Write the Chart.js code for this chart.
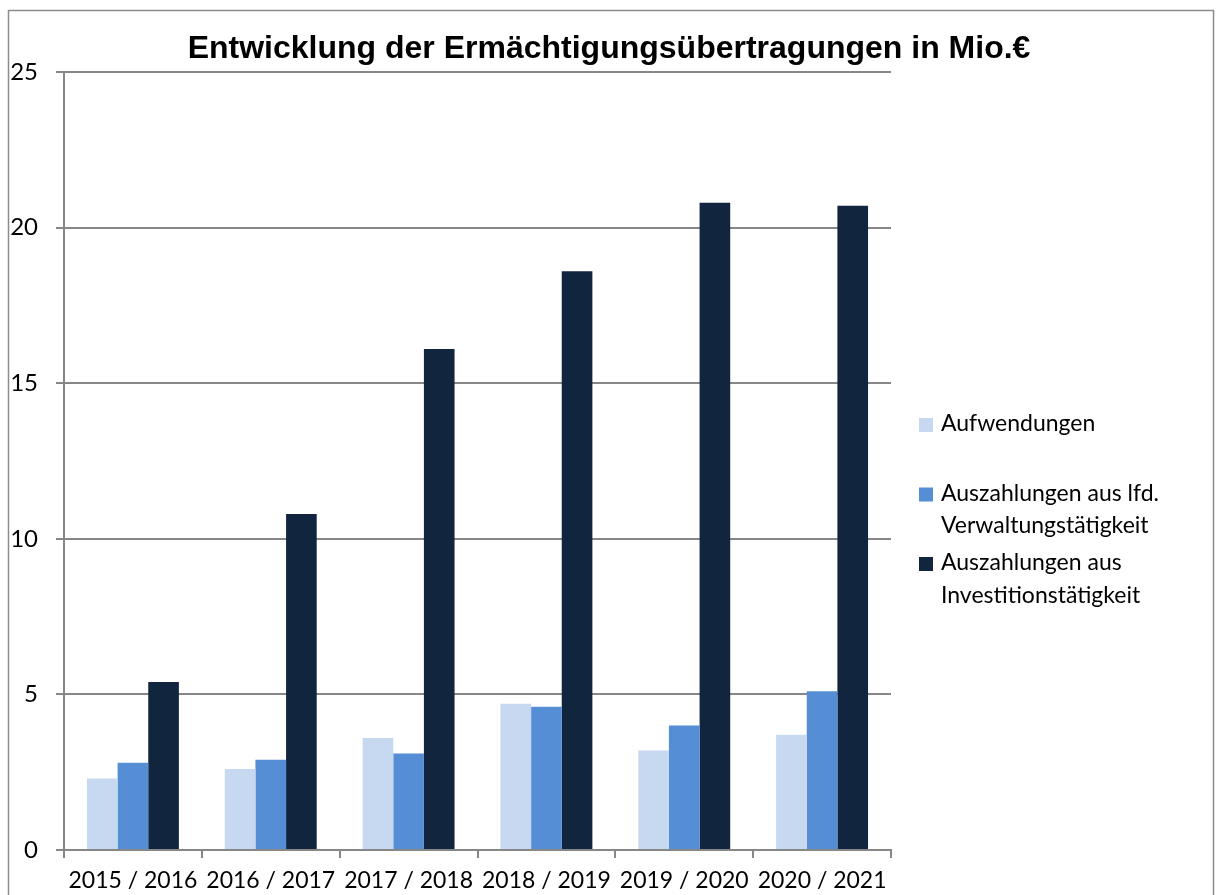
<!DOCTYPE html>
<html lang="de">
<head>
<meta charset="utf-8">
<title>Entwicklung der Ermächtigungsübertragungen</title>
<script src="https://cdn.jsdelivr.net/npm/chart.js@4/dist/chart.umd.min.js"></script>
<style>
  html, body { margin: 0; padding: 0; background: #ffffff; }
  #wrap { position: relative; width: 1218px; height: 895px; }
</style>
</head>
<body>
<div id="wrap"><canvas id="bar-chart" width="1218" height="895"></canvas></div>
<script>
// Daten (in Mio. €)
const categories = ["2015 / 2016", "2016 / 2017", "2017 / 2018", "2018 / 2019", "2019 / 2020", "2020 / 2021"];
const aufwendungen = [2.3, 2.6, 3.6, 4.7, 3.2, 3.7];
const auszahlungenVerwaltung = [2.8, 2.9, 3.1, 4.6, 4.0, 5.1];
const auszahlungenInvestition = [5.4, 10.8, 16.1, 18.6, 20.8, 20.7];
const yTicks = [0, 5, 10, 15, 20, 25];

// Legende mit Zeilenumbruch wie im Original
const seriesNames = [
    ["Aufwendungen"],
    ["Auszahlungen aus lfd.", "Verwaltungstätigkeit"],
    ["Auszahlungen aus", "Investitionstätigkeit"]
];
const seriesColors = ["#c6d9f1", "#558ed5", "#12253f"];
const chartTitle = "Entwicklung der Ermächtigungsübertragungen in Mio.€";

const gridGray = "#878787";
const labelFont = "Lato, 'Noto Sans', sans-serif";

// Rahmen und Titel (Titel über die ganze Breite zentriert)
const framePlugin = {
    id: 'frame',
    beforeDraw: function (chart) {
        const ctx = chart.ctx;
        ctx.save();
        ctx.fillStyle = "#ffffff";
        ctx.fillRect(0, 0, chart.width, chart.height);
        ctx.strokeStyle = "#8c8c8c";
        ctx.lineWidth = 1.5;
        ctx.strokeRect(8.5, 10.5, 1205, 900);
        ctx.font = "bold 32px 'Liberation Sans', Arial, sans-serif";
        ctx.fillStyle = "#000000";
        ctx.textAlign = "center";
        ctx.textBaseline = "middle";
        ctx.fillText(chartTitle, chart.width / 2, 49);
        ctx.restore();
    }
};

// eigene Legende rechts (Chart.js kann keine mehrzeiligen Einträge)
const sideLegend = {
    id: 'sideLegend',
    afterDraw: function (chart) {
        const ctx = chart.ctx;
        const area = chart.chartArea;
        const x = area.right + 28;
        let y = area.top + 352;
        const lineH = 32.5;
        ctx.save();
        ctx.font = "23px " + labelFont;
        ctx.textBaseline = "middle";
        ctx.textAlign = "left";
        chart.data.datasets.forEach(function (ds, i) {
            const lines = seriesNames[i];
            ctx.fillStyle = ds.backgroundColor;
            ctx.fillRect(x, y - 6, 14, 14);
            ctx.fillStyle = "#000000";
            lines.forEach(function (txt, j) {
                ctx.fillText(txt, x + 22, y + j * lineH);
            });
            y += 69.5;
        });
        ctx.restore();
    }
};

var ctx = document.getElementById("bar-chart").getContext("2d");
var myChart = new Chart(ctx, {
    type: "bar",
    data: {
        labels: categories,
        datasets: [
            { label: seriesNames[0].join(" "), backgroundColor: seriesColors[0], data: aufwendungen },
            { label: seriesNames[1].join(" "), backgroundColor: seriesColors[1], data: auszahlungenVerwaltung },
            { label: seriesNames[2].join(" "), backgroundColor: seriesColors[2], data: auszahlungenInvestition }
        ]
    },
    options: {
        responsive: false,
        animation: false,
        layout: { padding: { left: 0, right: 327, top: 72, bottom: 0 } },
        datasets: {
            bar: { categoryPercentage: 0.667, barPercentage: 1.0, borderWidth: 0 }
        },
        plugins: {
            legend: { display: false },
            tooltip: { enabled: false },
            title: { display: false }
        },
        scales: {
            x: {
                grid: { drawOnChartArea: false, drawTicks: true, tickLength: 8, color: gridGray, lineWidth: 2 },
                border: { color: gridGray, width: 2 },
                ticks: { color: "#000000", padding: 9, maxRotation: 0, autoSkip: false, font: { family: labelFont, size: 23 } },
                afterFit: function (scale) { scale.height = 45; }
            },
            y: {
                min: 0,
                max: 25,
                afterBuildTicks: function (scale) {
                    scale.ticks = yTicks.map(function (v) { return { value: v }; });
                },
                grid: { color: gridGray, lineWidth: 2, tickLength: 8 },
                border: { color: gridGray, width: 2 },
                ticks: { color: "#000000", padding: 18, font: { family: labelFont, size: 24 } },
                afterFit: function (scale) { scale.width = 64; }
            }
        }
    },
    plugins: [framePlugin, sideLegend]
});
</script>
</body>
</html>
